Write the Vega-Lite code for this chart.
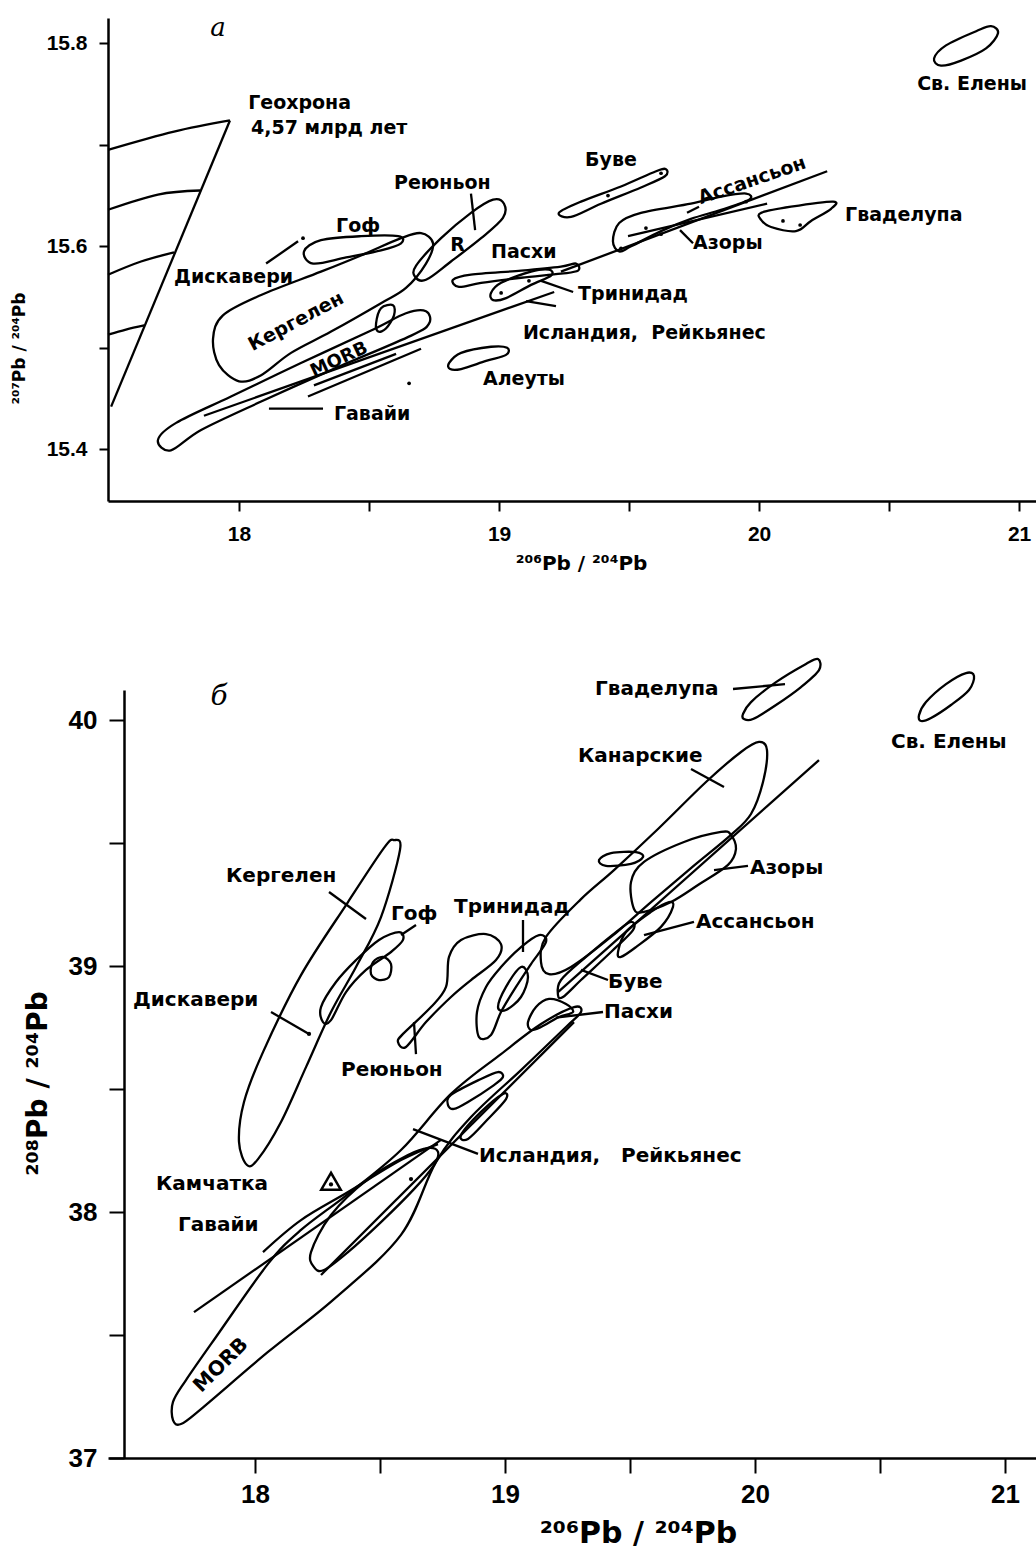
{
  "$schema": "https://vega.github.io/schema/vega-lite/v6.json",
  "background": "white",
  "padding": {"left": 10, "top": 15, "right": 0, "bottom": 0},
  "bounds": "flush",
  "spacing": 189,
  "config": {
    "view": {"stroke": null},
    "text": {"fontWeight": "bold"},
    "axis": {
      "domainColor": "black", "domainWidth": 2.5, "tickColor": "black", "tickWidth": 2,
      "labelColor": "black", "titleColor": "black", "labelFont": "Liberation Sans",
      "labelFontWeight": "bold",
      "titleFont": "DejaVu Sans", "titleFontWeight": "bold", "grid": false,
      "labelOverlap": false, "labelFlush": false, "labelBound": false
    }
  },
  "datasets": {
    "tShapes": [
      {"id":"gof","o":1,"x":18.25,"y":15.595},{"id":"gof","o":2,"x":18.315,"y":15.606},{"id":"gof","o":3,"x":18.469,"y":15.61},{"id":"gof","o":4,"x":18.612,"y":15.61},{"id":"gof","o":5,"x":18.623,"y":15.603},{"id":"gof","o":6,"x":18.546,"y":15.596},{"id":"gof","o":7,"x":18.412,"y":15.589},{"id":"gof","o":8,"x":18.285,"y":15.583},
      {"id":"kerg","o":1,"x":17.9,"y":15.509},{"id":"kerg","o":2,"x":17.938,"y":15.532},{"id":"kerg","o":3,"x":18.085,"y":15.552},{"id":"kerg","o":4,"x":18.315,"y":15.575},{"id":"kerg","o":5,"x":18.469,"y":15.591},{"id":"kerg","o":6,"x":18.623,"y":15.608},{"id":"kerg","o":7,"x":18.7,"y":15.613},{"id":"kerg","o":8,"x":18.746,"y":15.603},{"id":"kerg","o":9,"x":18.719,"y":15.583},{"id":"kerg","o":10,"x":18.642,"y":15.559},{"id":"kerg","o":11,"x":18.546,"y":15.544},{"id":"kerg","o":12,"x":18.354,"y":15.516},{"id":"kerg","o":13,"x":18.2,"y":15.495},{"id":"kerg","o":14,"x":18.085,"y":15.473},{"id":"kerg","o":15,"x":18.0,"y":15.467},{"id":"kerg","o":16,"x":17.923,"y":15.483},
      {"id":"reun","o":1,"x":18.681,"y":15.581},{"id":"reun","o":2,"x":18.777,"y":15.608},{"id":"reun","o":3,"x":18.892,"y":15.633},{"id":"reun","o":4,"x":18.977,"y":15.646},{"id":"reun","o":5,"x":19.019,"y":15.642},{"id":"reun","o":6,"x":19.015,"y":15.628},{"id":"reun","o":7,"x":18.931,"y":15.608},{"id":"reun","o":8,"x":18.815,"y":15.585},{"id":"reun","o":9,"x":18.719,"y":15.567},{"id":"reun","o":10,"x":18.677,"y":15.57},
      {"id":"morb","o":1,"x":17.688,"y":15.409},{"id":"morb","o":2,"x":17.758,"y":15.426},{"id":"morb","o":3,"x":17.969,"y":15.452},{"id":"morb","o":4,"x":18.238,"y":15.485},{"id":"morb","o":5,"x":18.508,"y":15.517},{"id":"morb","o":6,"x":18.642,"y":15.534},{"id":"morb","o":7,"x":18.719,"y":15.536},{"id":"morb","o":8,"x":18.731,"y":15.524},{"id":"morb","o":9,"x":18.662,"y":15.512},{"id":"morb","o":10,"x":18.354,"y":15.478},{"id":"morb","o":11,"x":18.085,"y":15.447},{"id":"morb","o":12,"x":17.854,"y":15.419},{"id":"morb","o":13,"x":17.738,"y":15.399},
      {"id":"bump","o":1,"x":18.527,"y":15.524},{"id":"bump","o":2,"x":18.546,"y":15.539},{"id":"bump","o":3,"x":18.592,"y":15.542},{"id":"bump","o":4,"x":18.596,"y":15.532},{"id":"bump","o":5,"x":18.565,"y":15.519},{"id":"bump","o":6,"x":18.535,"y":15.516},
      {"id":"pasch","o":1,"x":18.823,"y":15.567},{"id":"pasch","o":2,"x":18.892,"y":15.572},{"id":"pasch","o":3,"x":19.085,"y":15.576},{"id":"pasch","o":4,"x":19.238,"y":15.58},{"id":"pasch","o":5,"x":19.296,"y":15.583},{"id":"pasch","o":6,"x":19.304,"y":15.576},{"id":"pasch","o":7,"x":19.238,"y":15.573},{"id":"pasch","o":8,"x":19.085,"y":15.569},{"id":"pasch","o":9,"x":18.931,"y":15.564},{"id":"pasch","o":10,"x":18.846,"y":15.56},
      {"id":"trin","o":1,"x":18.969,"y":15.554},{"id":"trin","o":2,"x":19.008,"y":15.564},{"id":"trin","o":3,"x":19.123,"y":15.575},{"id":"trin","o":4,"x":19.192,"y":15.577},{"id":"trin","o":5,"x":19.2,"y":15.571},{"id":"trin","o":6,"x":19.123,"y":15.562},{"id":"trin","o":7,"x":19.027,"y":15.549},{"id":"trin","o":8,"x":18.977,"y":15.547},
      {"id":"bouv","o":1,"x":19.23,"y":15.633},{"id":"bouv","o":2,"x":19.315,"y":15.644},{"id":"bouv","o":3,"x":19.469,"y":15.659},{"id":"bouv","o":4,"x":19.604,"y":15.674},{"id":"bouv","o":5,"x":19.642,"y":15.676},{"id":"bouv","o":6,"x":19.638,"y":15.669},{"id":"bouv","o":7,"x":19.546,"y":15.658},{"id":"bouv","o":8,"x":19.392,"y":15.642},{"id":"bouv","o":9,"x":19.277,"y":15.629},
      {"id":"azor","o":1,"x":19.438,"y":15.605},{"id":"azor","o":2,"x":19.462,"y":15.623},{"id":"azor","o":3,"x":19.546,"y":15.633},{"id":"azor","o":4,"x":19.738,"y":15.642},{"id":"azor","o":5,"x":19.854,"y":15.649},{"id":"azor","o":6,"x":19.95,"y":15.652},{"id":"azor","o":7,"x":19.962,"y":15.646},{"id":"azor","o":8,"x":19.854,"y":15.636},{"id":"azor","o":9,"x":19.738,"y":15.627},{"id":"azor","o":10,"x":19.623,"y":15.615},{"id":"azor","o":11,"x":19.508,"y":15.6},{"id":"azor","o":12,"x":19.462,"y":15.595},
      {"id":"guad","o":1,"x":20.008,"y":15.633},{"id":"guad","o":2,"x":20.123,"y":15.639},{"id":"guad","o":3,"x":20.285,"y":15.644},{"id":"guad","o":4,"x":20.277,"y":15.637},{"id":"guad","o":5,"x":20.2,"y":15.625},{"id":"guad","o":6,"x":20.142,"y":15.615},{"id":"guad","o":7,"x":20.046,"y":15.619},{"id":"guad","o":8,"x":20.008,"y":15.626},
      {"id":"sth","o":1,"x":20.673,"y":15.785},{"id":"sth","o":2,"x":20.719,"y":15.798},{"id":"sth","o":3,"x":20.835,"y":15.812},{"id":"sth","o":4,"x":20.892,"y":15.817},{"id":"sth","o":5,"x":20.919,"y":15.81},{"id":"sth","o":6,"x":20.873,"y":15.795},{"id":"sth","o":7,"x":20.777,"y":15.783},{"id":"sth","o":8,"x":20.7,"y":15.778},
      {"id":"aleut","o":1,"x":18.808,"y":15.485},{"id":"aleut","o":2,"x":18.854,"y":15.495},{"id":"aleut","o":3,"x":18.969,"y":15.501},{"id":"aleut","o":4,"x":19.031,"y":15.5},{"id":"aleut","o":5,"x":19.027,"y":15.493},{"id":"aleut","o":6,"x":18.95,"y":15.487},{"id":"aleut","o":7,"x":18.854,"y":15.479},{"id":"aleut","o":8,"x":18.812,"y":15.479}
    ],
    "tCurves": [
      {"id":"c1","o":1,"x":17.496,"y":15.695},{"id":"c1","o":2,"x":17.75,"y":15.713},{"id":"c1","o":3,"x":17.965,"y":15.724},
      {"id":"c2","o":1,"x":17.496,"y":15.636},{"id":"c2","o":2,"x":17.688,"y":15.651},{"id":"c2","o":3,"x":17.85,"y":15.655},
      {"id":"c3","o":1,"x":17.496,"y":15.572},{"id":"c3","o":2,"x":17.623,"y":15.585},{"id":"c3","o":3,"x":17.75,"y":15.594},
      {"id":"c4","o":1,"x":17.496,"y":15.513},{"id":"c4","o":2,"x":17.565,"y":15.518},{"id":"c4","o":3,"x":17.635,"y":15.522}
    ],
    "tRules": [
      {"x":17.508,"y":15.442,"x2":17.965,"y2":15.724},
      {"x":17.865,"y":15.433,"x2":19.212,"y2":15.555},
      {"x":18.265,"y":15.452,"x2":18.7,"y2":15.499},
      {"x":18.288,"y":15.463,"x2":18.604,"y2":15.494},
      {"x":18.115,"y":15.44,"x2":18.323,"y2":15.44},
      {"x":19.238,"y":15.575,"x2":20.262,"y2":15.674},
      {"x":19.496,"y":15.61,"x2":20.031,"y2":15.642},
      {"x":18.104,"y":15.583,"x2":18.227,"y2":15.605},
      {"x":18.892,"y":15.652,"x2":18.908,"y2":15.616},
      {"x":19.162,"y":15.566,"x2":19.285,"y2":15.555},
      {"x":19.104,"y":15.546,"x2":19.219,"y2":15.541},
      {"x":19.723,"y":15.633,"x2":19.769,"y2":15.639},
      {"x":19.696,"y":15.616,"x2":19.746,"y2":15.603}
    ],
    "tDots": [
      {"x":18.246,"y":15.608},{"x":18.654,"y":15.465},{"x":19.419,"y":15.65},{"x":19.623,"y":15.672},
      {"x":19.469,"y":15.598},{"x":19.565,"y":15.618},{"x":19.623,"y":15.612},{"x":19.95,"y":15.644},
      {"x":20.092,"y":15.625},{"x":20.158,"y":15.621},{"x":19.115,"y":15.566},{"x":19.008,"y":15.554}
    ],
    "tLabels": [
      {"x":18.035,"y":15.741,"t":"Геохрона"},
      {"x":18.046,"y":15.717,"t":"4,57 млрд лет"},
      {"x":18.596,"y":15.662,"t":"Реюньон"},
      {"x":18.373,"y":15.62,"t":"Гоф"},
      {"x":17.75,"y":15.57,"t":"Дискавери"},
      {"x":18.812,"y":15.601,"t":"R"},
      {"x":18.969,"y":15.594,"t":"Пасхи"},
      {"x":19.331,"y":15.685,"t":"Буве"},
      {"x":19.746,"y":15.603,"t":"Азоры"},
      {"x":19.304,"y":15.553,"t":"Тринидад"},
      {"x":19.092,"y":15.515,"t":"Исландия,\u00a0 Рейкьянес"},
      {"x":18.938,"y":15.469,"t":"Алеуты"},
      {"x":18.365,"y":15.435,"t":"Гавайи"},
      {"x":20.331,"y":15.631,"t":"Гваделупа"},
      {"x":20.608,"y":15.76,"t":"Св. Елены"}
    ],
    "bShapes": [
      {"id":"morb","o":1,"x":17.672,"y":37.154},{"id":"morb","o":2,"x":17.672,"y":37.228},{"id":"morb","o":3,"x":17.724,"y":37.317},{"id":"morb","o":4,"x":17.844,"y":37.492},{"id":"morb","o":5,"x":18.052,"y":37.789},{"id":"morb","o":6,"x":18.184,"y":37.927},{"id":"morb","o":7,"x":18.372,"y":38.073},{"id":"morb","o":8,"x":18.584,"y":38.252},{"id":"morb","o":9,"x":18.784,"y":38.48},{"id":"morb","o":10,"x":18.984,"y":38.642},{"id":"morb","o":11,"x":19.144,"y":38.764},{"id":"morb","o":12,"x":19.276,"y":38.833},{"id":"morb","o":13,"x":19.304,"y":38.813},{"id":"morb","o":14,"x":19.244,"y":38.752},{"id":"morb","o":15,"x":19.064,"y":38.577},{"id":"morb","o":16,"x":18.864,"y":38.386},{"id":"morb","o":17,"x":18.724,"y":38.203},{"id":"morb","o":18,"x":18.584,"y":37.907},{"id":"morb","o":19,"x":18.316,"y":37.646},{"id":"morb","o":20,"x":18.052,"y":37.431},{"id":"morb","o":21,"x":17.784,"y":37.199},{"id":"morb","o":22,"x":17.704,"y":37.138},
      {"id":"haw","o":1,"x":18.236,"y":37.776},{"id":"haw","o":2,"x":18.224,"y":37.837},{"id":"haw","o":3,"x":18.304,"y":37.988},{"id":"haw","o":4,"x":18.452,"y":38.134},{"id":"haw","o":5,"x":18.612,"y":38.232},{"id":"haw","o":6,"x":18.692,"y":38.26},{"id":"haw","o":7,"x":18.732,"y":38.244},{"id":"haw","o":8,"x":18.716,"y":38.191},{"id":"haw","o":9,"x":18.636,"y":38.093},{"id":"haw","o":10,"x":18.504,"y":37.959},{"id":"haw","o":11,"x":18.372,"y":37.837},{"id":"haw","o":12,"x":18.276,"y":37.764},
      {"id":"ice1","o":1,"x":18.772,"y":38.435},{"id":"ice1","o":2,"x":18.784,"y":38.476},{"id":"ice1","o":3,"x":18.904,"y":38.541},{"id":"ice1","o":4,"x":18.972,"y":38.569},{"id":"ice1","o":5,"x":18.992,"y":38.549},{"id":"ice1","o":6,"x":18.956,"y":38.516},{"id":"ice1","o":7,"x":18.852,"y":38.447},{"id":"ice1","o":8,"x":18.796,"y":38.419},
      {"id":"ice2","o":1,"x":18.824,"y":38.313},{"id":"ice2","o":2,"x":18.904,"y":38.407},{"id":"ice2","o":3,"x":18.992,"y":38.48},{"id":"ice2","o":4,"x":19.004,"y":38.459},{"id":"ice2","o":5,"x":18.932,"y":38.378},{"id":"ice2","o":6,"x":18.852,"y":38.297},
      {"id":"kerg","o":1,"x":18.556,"y":39.512},{"id":"kerg","o":2,"x":18.58,"y":39.472},{"id":"kerg","o":3,"x":18.504,"y":39.199},{"id":"kerg","o":4,"x":18.404,"y":38.996},{"id":"kerg","o":5,"x":18.304,"y":38.813},{"id":"kerg","o":6,"x":18.204,"y":38.589},{"id":"kerg","o":7,"x":18.104,"y":38.366},{"id":"kerg","o":8,"x":18.012,"y":38.215},{"id":"kerg","o":9,"x":17.968,"y":38.191},{"id":"kerg","o":10,"x":17.936,"y":38.285},{"id":"kerg","o":11,"x":17.956,"y":38.447},{"id":"kerg","o":12,"x":18.032,"y":38.65},{"id":"kerg","o":13,"x":18.184,"y":38.963},{"id":"kerg","o":14,"x":18.372,"y":39.26},{"id":"kerg","o":15,"x":18.516,"y":39.48},
      {"id":"gof","o":1,"x":18.576,"y":39.138},{"id":"gof","o":2,"x":18.592,"y":39.106},{"id":"gof","o":3,"x":18.544,"y":39.057},{"id":"gof","o":4,"x":18.444,"y":38.984},{"id":"gof","o":5,"x":18.364,"y":38.894},{"id":"gof","o":6,"x":18.304,"y":38.78},{"id":"gof","o":7,"x":18.272,"y":38.772},{"id":"gof","o":8,"x":18.264,"y":38.833},{"id":"gof","o":9,"x":18.324,"y":38.935},{"id":"gof","o":10,"x":18.404,"y":39.024},{"id":"gof","o":11,"x":18.496,"y":39.106},
      {"id":"gofl","o":1,"x":18.472,"y":39.016},{"id":"gofl","o":2,"x":18.512,"y":39.037},{"id":"gofl","o":3,"x":18.544,"y":39.008},{"id":"gofl","o":4,"x":18.536,"y":38.955},{"id":"gofl","o":5,"x":18.496,"y":38.943},{"id":"gofl","o":6,"x":18.464,"y":38.967},
      {"id":"reun","o":1,"x":18.572,"y":38.691},{"id":"reun","o":2,"x":18.592,"y":38.724},{"id":"reun","o":3,"x":18.704,"y":38.833},{"id":"reun","o":4,"x":18.764,"y":38.915},{"id":"reun","o":5,"x":18.776,"y":39.037},{"id":"reun","o":6,"x":18.824,"y":39.106},{"id":"reun","o":7,"x":18.924,"y":39.13},{"id":"reun","o":8,"x":18.984,"y":39.089},{"id":"reun","o":9,"x":18.964,"y":39.024},{"id":"reun","o":10,"x":18.864,"y":38.943},{"id":"reun","o":11,"x":18.784,"y":38.874},{"id":"reun","o":12,"x":18.684,"y":38.772},{"id":"reun","o":13,"x":18.604,"y":38.671},
      {"id":"trin","o":1,"x":18.896,"y":38.711},{"id":"trin","o":2,"x":18.888,"y":38.813},{"id":"trin","o":3,"x":18.924,"y":38.915},{"id":"trin","o":4,"x":18.984,"y":38.996},{"id":"trin","o":5,"x":19.064,"y":39.077},{"id":"trin","o":6,"x":19.136,"y":39.126},{"id":"trin","o":7,"x":19.164,"y":39.098},{"id":"trin","o":8,"x":19.104,"y":39.008},{"id":"trin","o":9,"x":19.044,"y":38.915},{"id":"trin","o":10,"x":18.984,"y":38.813},{"id":"trin","o":11,"x":18.944,"y":38.72},
      {"id":"trinl","o":1,"x":18.972,"y":38.833},{"id":"trinl","o":2,"x":19.004,"y":38.915},{"id":"trinl","o":3,"x":19.064,"y":38.996},{"id":"trinl","o":4,"x":19.092,"y":38.955},{"id":"trinl","o":5,"x":19.064,"y":38.874},{"id":"trinl","o":6,"x":19.004,"y":38.821},
      {"id":"canar","o":1,"x":19.144,"y":39.016},{"id":"canar","o":2,"x":19.164,"y":39.118},{"id":"canar","o":3,"x":19.304,"y":39.272},{"id":"canar","o":4,"x":19.436,"y":39.39},{"id":"canar","o":5,"x":19.612,"y":39.557},{"id":"canar","o":6,"x":19.804,"y":39.748},{"id":"canar","o":7,"x":19.944,"y":39.87},{"id":"canar","o":8,"x":20.016,"y":39.911},{"id":"canar","o":9,"x":20.048,"y":39.878},{"id":"canar","o":10,"x":20.032,"y":39.748},{"id":"canar","o":11,"x":19.984,"y":39.618},{"id":"canar","o":12,"x":19.904,"y":39.533},{"id":"canar","o":13,"x":19.744,"y":39.398},{"id":"canar","o":14,"x":19.584,"y":39.26},{"id":"canar","o":15,"x":19.424,"y":39.118},{"id":"canar","o":16,"x":19.264,"y":38.996},{"id":"canar","o":17,"x":19.176,"y":38.967},
      {"id":"small","o":1,"x":19.376,"y":39.431},{"id":"small","o":2,"x":19.424,"y":39.459},{"id":"small","o":3,"x":19.524,"y":39.463},{"id":"small","o":4,"x":19.552,"y":39.443},{"id":"small","o":5,"x":19.504,"y":39.415},{"id":"small","o":6,"x":19.404,"y":39.407},
      {"id":"azor","o":1,"x":19.516,"y":39.232},{"id":"azor","o":2,"x":19.504,"y":39.341},{"id":"azor","o":3,"x":19.556,"y":39.423},{"id":"azor","o":4,"x":19.716,"y":39.504},{"id":"azor","o":5,"x":19.864,"y":39.545},{"id":"azor","o":6,"x":19.904,"y":39.533},{"id":"azor","o":7,"x":19.924,"y":39.476},{"id":"azor","o":8,"x":19.892,"y":39.411},{"id":"azor","o":9,"x":19.772,"y":39.329},{"id":"azor","o":10,"x":19.664,"y":39.26},{"id":"azor","o":11,"x":19.556,"y":39.22},
      {"id":"asc","o":1,"x":19.452,"y":39.057},{"id":"asc","o":2,"x":19.484,"y":39.138},{"id":"asc","o":3,"x":19.584,"y":39.22},{"id":"asc","o":4,"x":19.656,"y":39.26},{"id":"asc","o":5,"x":19.672,"y":39.24},{"id":"asc","o":6,"x":19.624,"y":39.159},{"id":"asc","o":7,"x":19.524,"y":39.077},{"id":"asc","o":8,"x":19.464,"y":39.037},
      {"id":"bouv","o":1,"x":19.212,"y":38.882},{"id":"bouv","o":2,"x":19.224,"y":38.943},{"id":"bouv","o":3,"x":19.324,"y":39.037},{"id":"bouv","o":4,"x":19.444,"y":39.138},{"id":"bouv","o":5,"x":19.504,"y":39.179},{"id":"bouv","o":6,"x":19.512,"y":39.146},{"id":"bouv","o":7,"x":19.424,"y":39.057},{"id":"bouv","o":8,"x":19.304,"y":38.943},{"id":"bouv","o":9,"x":19.232,"y":38.874},
      {"id":"pasch","o":1,"x":19.092,"y":38.772},{"id":"pasch","o":2,"x":19.124,"y":38.833},{"id":"pasch","o":3,"x":19.176,"y":38.866},{"id":"pasch","o":4,"x":19.244,"y":38.846},{"id":"pasch","o":5,"x":19.272,"y":38.813},{"id":"pasch","o":6,"x":19.216,"y":38.793},{"id":"pasch","o":7,"x":19.144,"y":38.752},{"id":"pasch","o":8,"x":19.104,"y":38.74},
      {"id":"guad","o":1,"x":19.952,"y":40.024},{"id":"guad","o":2,"x":19.984,"y":40.073},{"id":"guad","o":3,"x":20.084,"y":40.154},{"id":"guad","o":4,"x":20.204,"y":40.228},{"id":"guad","o":5,"x":20.252,"y":40.248},{"id":"guad","o":6,"x":20.256,"y":40.203},{"id":"guad","o":7,"x":20.184,"y":40.134},{"id":"guad","o":8,"x":20.084,"y":40.061},{"id":"guad","o":9,"x":19.992,"y":40.004},{"id":"guad","o":10,"x":19.956,"y":40.004},
      {"id":"sth","o":1,"x":20.656,"y":40.02},{"id":"sth","o":2,"x":20.684,"y":40.073},{"id":"sth","o":3,"x":20.764,"y":40.146},{"id":"sth","o":4,"x":20.844,"y":40.191},{"id":"sth","o":5,"x":20.876,"y":40.179},{"id":"sth","o":6,"x":20.856,"y":40.122},{"id":"sth","o":7,"x":20.784,"y":40.061},{"id":"sth","o":8,"x":20.704,"y":40.008},{"id":"sth","o":9,"x":20.664,"y":39.996}
    ],
    "bCurves": [
      {"id":"kam","o":1,"x":18.032,"y":37.837},{"id":"kam","o":2,"x":18.184,"y":37.967},{"id":"kam","o":3,"x":18.372,"y":38.081},{"id":"kam","o":4,"x":18.584,"y":38.211},{"id":"kam","o":5,"x":18.732,"y":38.276}
    ],
    "bRules": [
      {"x":17.756,"y":37.593,"x2":18.744,"y2":38.293},
      {"x":20.256,"y":39.837,"x2":19.212,"y2":38.894},
      {"x":18.264,"y":37.744,"x2":19.276,"y2":38.772},
      {"x":19.912,"y":40.126,"x2":20.12,"y2":40.146},
      {"x":18.296,"y":39.301,"x2":18.444,"y2":39.191},
      {"x":18.584,"y":39.126,"x2":18.644,"y2":39.167},
      {"x":18.064,"y":38.813,"x2":18.216,"y2":38.724},
      {"x":18.636,"y":38.772,"x2":18.644,"y2":38.642},
      {"x":19.072,"y":39.187,"x2":19.072,"y2":39.057},
      {"x":19.744,"y":39.801,"x2":19.876,"y2":39.728},
      {"x":19.836,"y":39.39,"x2":19.972,"y2":39.407},
      {"x":19.556,"y":39.126,"x2":19.756,"y2":39.179},
      {"x":19.304,"y":38.984,"x2":19.412,"y2":38.943},
      {"x":19.204,"y":38.79,"x2":19.392,"y2":38.813},
      {"x":18.632,"y":38.337,"x2":18.892,"y2":38.236}
    ],
    "bDots": [
      {"x":18.216,"y":38.724},{"x":18.624,"y":38.134},{"x":18.304,"y":38.112}
    ],
    "bLabels": [
      {"x":19.36,"y":40.126,"t":"Гваделупа"},
      {"x":20.544,"y":39.911,"t":"Св. Елены"},
      {"x":19.292,"y":39.854,"t":"Канарские"},
      {"x":17.884,"y":39.366,"t":"Кергелен"},
      {"x":18.544,"y":39.211,"t":"Гоф"},
      {"x":18.796,"y":39.24,"t":"Тринидад"},
      {"x":19.98,"y":39.398,"t":"Азоры"},
      {"x":19.764,"y":39.179,"t":"Ассансьон"},
      {"x":19.412,"y":38.935,"t":"Буве"},
      {"x":19.396,"y":38.813,"t":"Пасхи"},
      {"x":17.512,"y":38.862,"t":"Дискавери"},
      {"x":18.344,"y":38.577,"t":"Реюньон"},
      {"x":18.896,"y":38.228,"t":"Исландия,\u00a0\u00a0 Рейкьянес"},
      {"x":17.604,"y":38.114,"t":"Камчатка"},
      {"x":17.692,"y":37.947,"t":"Гавайи"}
    ]
  },
  "vconcat": [
    {
      "width": 929,
      "height": 483,
      "encoding": {
        "x": {"field": "x", "type": "quantitative",
          "scale": {"domain": [17.496, 21.069], "nice": false, "zero": false},
          "axis": {"values": [18, 18.5, 19, 19.5, 20, 20.5, 21],
            "labelExpr": "datum.value % 1 == 0 ? format(datum.value, 'd') : ''",
            "title": "²⁰⁶Pb / ²⁰⁴Pb", "titleX": 473, "titleY": 62, "titleBaseline": "middle",
            "titleFontSize": 20, "tickSize": 10, "labelPadding": 12, "labelFontSize": 21}},
        "y": {"field": "y", "type": "quantitative",
          "scale": {"domain": [15.349, 15.825], "nice": false, "zero": false},
          "axis": {"values": [15.4, 15.5, 15.6, 15.7, 15.8],
            "labelExpr": "(datum.value == 15.4 || datum.value == 15.6 || datum.value == 15.8) ? format(datum.value, '.1f') : ''",
            "title": "²⁰⁷Pb / ²⁰⁴Pb", "titleX": -89, "titleY": 330, "titleBaseline": "middle",
            "titleFontSize": 17, "tickSize": 9, "labelPadding": 12, "labelFontSize": 21}}
      },
      "layer": [
        {"data": {"name": "tShapes"},
         "mark": {"type": "line", "interpolate": "cardinal-closed", "stroke": "black", "strokeWidth": 2.3},
         "encoding": {"detail": {"field": "id"}, "order": {"field": "o", "type": "quantitative"}}},
        {"data": {"name": "tCurves"},
         "mark": {"type": "line", "interpolate": "cardinal", "stroke": "black", "strokeWidth": 2.3},
         "encoding": {"detail": {"field": "id"}, "order": {"field": "o", "type": "quantitative"}}},
        {"data": {"name": "tRules"},
         "mark": {"type": "rule", "stroke": "black", "strokeWidth": 2.3},
         "encoding": {"x2": {"field": "x2"}, "y2": {"field": "y2"}}},
        {"data": {"name": "tDots"},
         "mark": {"type": "point", "filled": true, "color": "black", "size": 14, "opacity": 1},
         "encoding": {}},
        {"data": {"name": "tLabels"},
         "mark": {"type": "text", "align": "left", "baseline": "middle", "font": "DejaVu Sans", "fontSize": 19, "fontWeight": "bold", "color": "black"},
         "encoding": {"text": {"field": "t"}}},
        {"data": {"values": [{"x": 18.219, "y": 15.526, "t": "Кергелен"}]},
         "mark": {"type": "text", "align": "center", "baseline": "middle", "angle": -28, "font": "DejaVu Sans", "fontSize": 19, "fontWeight": "bold", "color": "black"},
         "encoding": {"text": {"field": "t"}}},
        {"data": {"values": [{"x": 18.385, "y": 15.488, "t": "MORB"}]},
         "mark": {"type": "text", "align": "center", "baseline": "middle", "angle": -25, "font": "DejaVu Sans", "fontSize": 18, "fontWeight": "bold", "color": "black"},
         "encoding": {"text": {"field": "t"}}},
        {"data": {"values": [{"x": 19.973, "y": 15.665, "t": "Ассансьон"}]},
         "mark": {"type": "text", "align": "center", "baseline": "middle", "angle": -19, "font": "DejaVu Sans", "fontSize": 19, "fontWeight": "bold", "color": "black"},
         "encoding": {"text": {"field": "t"}}},
        {"data": {"values": [{"x": 17.919, "y": 15.815, "t": "а"}]},
         "mark": {"type": "text", "align": "center", "baseline": "middle", "font": "DejaVu Serif", "fontStyle": "italic", "fontWeight": "normal", "fontSize": 26, "color": "black"},
         "encoding": {"text": {"field": "t"}}}
      ]
    },
    {
      "width": 929,
      "height": 768,
      "encoding": {
        "x": {"field": "x", "type": "quantitative",
          "scale": {"domain": [17.412, 21.128], "nice": false, "zero": false},
          "axis": {"values": [18, 18.5, 19, 19.5, 20, 20.5, 21],
            "labelExpr": "datum.value % 1 == 0 ? format(datum.value, 'd') : ''",
            "title": "²⁰⁶Pb / ²⁰⁴Pb", "titleX": 530, "titleY": 75, "titleBaseline": "middle",
            "titleFontSize": 30, "tickSize": 15, "labelPadding": 8, "labelFontSize": 26}},
        "y": {"field": "y", "type": "quantitative",
          "scale": {"domain": [37, 40.122], "nice": false, "zero": false},
          "axis": {"values": [37, 37.5, 38, 38.5, 39, 39.5, 40], "offset": -16,
            "labelExpr": "datum.value % 1 == 0 ? format(datum.value, 'd') : ''",
            "title": "²⁰⁸Pb / ²⁰⁴Pb", "titleX": -86, "titleY": 393, "titleBaseline": "middle",
            "titleFontSize": 28, "tickSize": 15, "labelPadding": 12, "labelFontSize": 26}}
      },
      "layer": [
        {"data": {"name": "bShapes"},
         "mark": {"type": "line", "interpolate": "cardinal-closed", "stroke": "black", "strokeWidth": 2.3},
         "encoding": {"detail": {"field": "id"}, "order": {"field": "o", "type": "quantitative"}}},
        {"data": {"name": "bCurves"},
         "mark": {"type": "line", "interpolate": "cardinal", "stroke": "black", "strokeWidth": 2.3},
         "encoding": {"detail": {"field": "id"}, "order": {"field": "o", "type": "quantitative"}}},
        {"data": {"name": "bRules"},
         "mark": {"type": "rule", "stroke": "black", "strokeWidth": 2.3},
         "encoding": {"x2": {"field": "x2"}, "y2": {"field": "y2"}}},
        {"data": {"name": "bDots"},
         "mark": {"type": "point", "filled": true, "color": "black", "size": 18, "opacity": 1},
         "encoding": {}},
        {"data": {"values": [{"x": 18.304, "y": 38.125}]},
         "mark": {"type": "point", "shape": "triangle-up", "filled": false, "stroke": "black", "strokeWidth": 2.5, "size": 380, "opacity": 1},
         "encoding": {}},
        {"data": {"name": "bLabels"},
         "mark": {"type": "text", "align": "left", "baseline": "middle", "font": "DejaVu Sans", "fontSize": 20, "fontWeight": "bold", "color": "black"},
         "encoding": {"text": {"field": "t"}}},
        {"data": {"values": [{"x": 17.864, "y": 37.378, "t": "MORB"}]},
         "mark": {"type": "text", "align": "center", "baseline": "middle", "angle": -45, "font": "DejaVu Sans", "fontSize": 20, "fontWeight": "bold", "color": "black"},
         "encoding": {"text": {"field": "t"}}},
        {"data": {"values": [{"x": 17.856, "y": 40.093, "t": "б"}]},
         "mark": {"type": "text", "align": "center", "baseline": "middle", "font": "DejaVu Serif", "fontStyle": "italic", "fontWeight": "normal", "fontSize": 28, "color": "black"},
         "encoding": {"text": {"field": "t"}}}
      ]
    }
  ]
}
